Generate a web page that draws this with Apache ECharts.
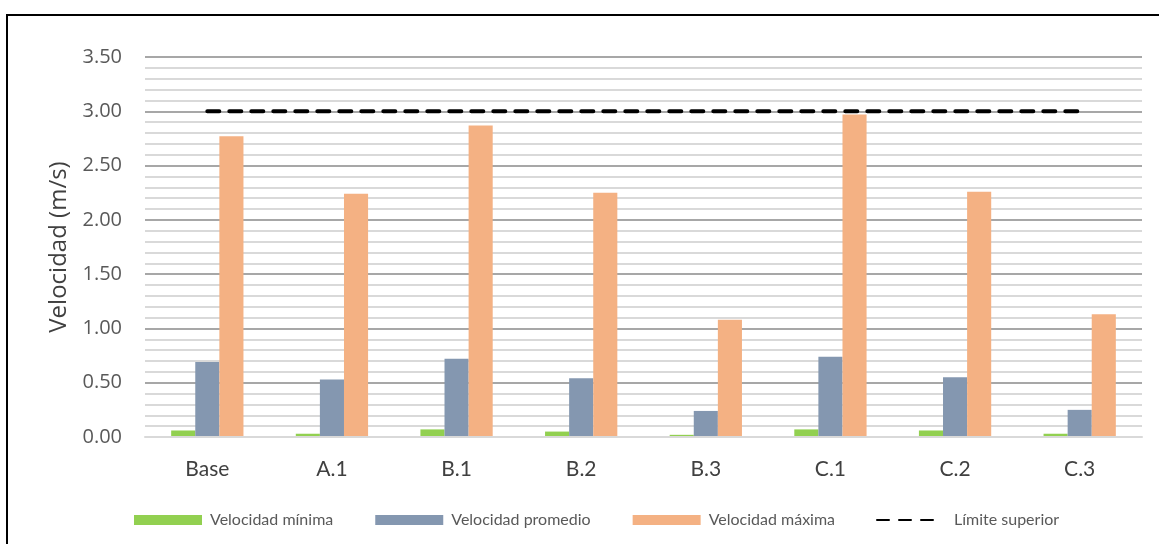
<!DOCTYPE html>
<html>
<head>
<meta charset="utf-8">
<script src="https://cdn.jsdelivr.net/npm/echarts@6/dist/echarts.min.js"></script>
<style>
  html, body { margin: 0; padding: 0; background: #fff; }
  #chart { width: 1159px; height: 544px; }
</style>
</head>
<body>
<div id="chart"></div>
<script>
// Escenarios evaluados
const categories = ['Base', 'A.1', 'B.1', 'B.2', 'B.3', 'C.1', 'C.2', 'C.3'];

// Velocidades (m/s) por escenario
const velocidadMinima   = [0.06, 0.03, 0.07, 0.05, 0.02, 0.07, 0.06, 0.03];
const velocidadPromedio = [0.69, 0.53, 0.72, 0.54, 0.24, 0.74, 0.55, 0.25];
const velocidadMaxima   = [2.77, 2.24, 2.87, 2.25, 1.08, 2.97, 2.26, 1.13];
const limiteSuperior    = [3.00, 3.00, 3.00, 3.00, 3.00, 3.00, 3.00, 3.00];

const seriesNames = ['Velocidad mínima', 'Velocidad promedio', 'Velocidad máxima', 'Límite superior'];

const chart = echarts.init(document.getElementById('chart'), null, { renderer: 'canvas' });

const legendText = { color: '#595959', fontSize: 16, fontFamily: 'Lato, "Open Sans", sans-serif', padding: [0, 0, 0, 3] };

chart.setOption({
  animation: false,
  backgroundColor: '#ffffff',
  graphic: [{
    type: 'rect',
    shape: { x: 7, y: 15, width: 1200, height: 600 },
    style: { fill: 'none', stroke: '#000000', lineWidth: 2 },
    silent: true
  }],
  grid: { left: 145, right: 17, top: 57, bottom: 107, containLabel: false },
  legend: [{
    data: seriesNames.slice(0, 3),
    left: 134,
    top: 512,
    padding: 0,
    itemWidth: 68,
    itemHeight: 10,
    itemGap: 42,
    icon: 'rect',
    textStyle: legendText
  }, {
    data: [seriesNames[3]],
    left: 876,
    top: 512,
    padding: 0,
    itemWidth: 58,
    itemHeight: 10,
    itemStyle: { opacity: 0 },
    textStyle: Object.assign({}, legendText, { padding: [0, 0, 0, 14] })
  }],
  xAxis: {
    type: 'category',
    data: categories,
    axisLine: { show: true, lineStyle: { color: '#d9d9d9', width: 2 } },
    axisTick: { show: false },
    axisLabel: { color: '#404040', fontSize: 21, margin: 22, fontFamily: 'Lato, "Open Sans", sans-serif' },
    z: 5
  },
  yAxis: {
    type: 'value',
    min: 0,
    max: 3.5,
    interval: 0.5,
    name: 'Velocidad (m/s)',
    nameLocation: 'middle',
    nameGap: 73,
    nameTextStyle: { color: '#404040', fontSize: 24, fontFamily: '"Open Sans", sans-serif' },
    axisLine: { show: false },
    axisTick: { show: false },
    axisLabel: {
      color: '#595959',
      fontSize: 20,
      margin: 23,
      fontFamily: '"Open Sans", sans-serif',
      formatter: v => v.toFixed(2)
    },
    splitLine: { show: true, lineStyle: { color: '#8a8a8a', width: 1.5 } },
    minorTick: { show: false, splitNumber: 5 },
    minorSplitLine: { show: true, lineStyle: { color: '#d9d9d9', width: 2 } }
  },
  series: [{
    name: seriesNames[0],
    type: 'bar',
    data: velocidadMinima,
    barGap: '0%',
    barCategoryGap: '42%',
    itemStyle: { color: '#92d050' }
  }, {
    name: seriesNames[1],
    type: 'bar',
    data: velocidadPromedio,
    itemStyle: { color: '#8497b0' }
  }, {
    name: seriesNames[2],
    type: 'bar',
    data: velocidadMaxima,
    itemStyle: { color: '#f4b183' }
  }, {
    name: seriesNames[3],
    type: 'line',
    data: limiteSuperior,
    symbol: 'none',
    z: 10,
    lineStyle: { color: '#000000', width: 4, type: [12, 10], cap: 'round' },
    itemStyle: { color: '#000000' }
  }]
});
</script>
</body>
</html>
